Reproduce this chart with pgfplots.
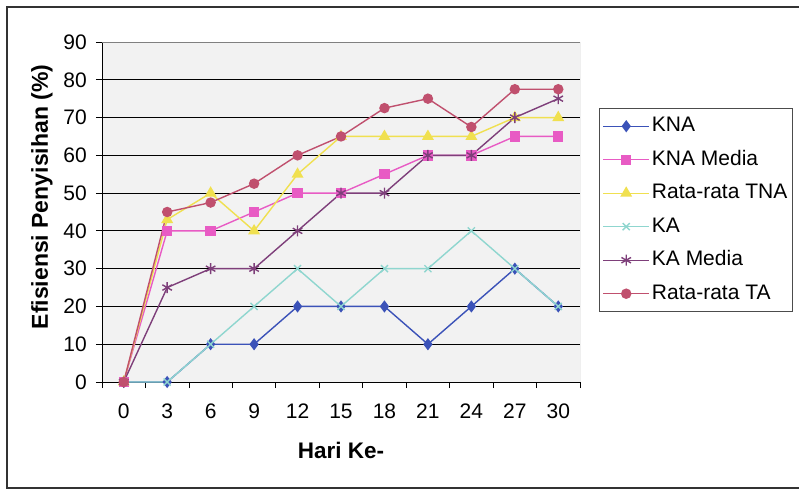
\documentclass[border=0pt]{standalone}
\usepackage{pgfplots}
\pgfplotsset{compat=1.18}
\usepackage{fontspec}
\setmainfont{Liberation Sans}
\definecolor{cKNA}{HTML}{3B52B8}
\definecolor{cKNAM}{HTML}{E85BC4}
\definecolor{cTNA}{HTML}{F0E050}
\definecolor{cKA}{HTML}{8FD6CF}
\definecolor{cKAM}{HTML}{7E3F7A}
\definecolor{cTA}{HTML}{C0506E}
\begin{document}
\fontsize{21}{25}\selectfont
\begin{tikzpicture}
\useasboundingbox (-102pt,-108pt) rectangle (697pt,382pt);
\draw[line width=1.6pt, black!80] (697pt,375pt) -- (-95pt,375pt) -- (-95pt,-106pt) -- (697pt,-106pt);
\begin{axis}[
  scale only axis,
  width=478pt, height=340pt,
  xmin=-1.5, xmax=31.5, ymin=0, ymax=90,
  axis lines*=left,
  axis line style={black, line width=0.9pt},
  axis background/.style={fill=black!5},
  xtick={0,3,...,30},
  major x tick style={draw=none},
  minor xtick={-1.5,1.5,...,31.5},
  minor x tick style={black, line width=0.8pt},
  ytick={0,10,...,90},
  tick align=outside,
  major tick length=6pt, minor tick length=6pt,
  y tick style={black, line width=0.8pt},
  extra y ticks={10,20,...,80},
  extra y tick labels={},
  extra y tick style={grid=major, major grid style={black, line width=0.9pt}, tick style={draw=none}},
  /pgf/number format/assume math mode=true,
  tick label style={font=\fontsize{21}{25}\selectfont},
  xticklabel style={yshift=-9pt},
  yticklabel style={xshift=-2pt},
  xlabel={\textbf{Hari Ke-}},
  ylabel={\textbf{Efisiensi Penyisihan (\%)}},
  xlabel style={at={(axis description cs:0.5,-0.2)}, anchor=center, font=\fontsize{22.5}{26}\selectfont},
  ylabel style={at={(axis description cs:-0.1255,0.544)}, anchor=center, font=\fontsize{23}{27}\selectfont},
  legend style={at={(axis description cs:1.04,0.805)}, anchor=north west, draw=black!70, line width=0.8pt, fill=white,
    font=\fontsize{21}{25}\selectfont, row sep=10.5pt, inner xsep=3pt, inner ysep=6pt,
    nodes={inner sep=2pt, text height=15pt, text depth=4pt}},
  legend cell align=left,
  legend image code/.code={\draw[mark repeat=2,mark phase=2] plot coordinates {(0pt,0pt) (23pt,0pt) (46pt,0pt)};},
  every axis plot/.append style={line width=1.4pt},
]
\addplot[cKNA, mark=diamond*, mark size=5pt] coordinates {(0,0)(3,0)(6,10)(9,10)(12,20)(15,20)(18,20)(21,10)(24,20)(27,30)(30,20)};
\addlegendentry{KNA}
\addplot[cKNAM, mark=square*, mark size=4.5pt] coordinates {(0,0)(3,40)(6,40)(9,45)(12,50)(15,50)(18,55)(21,60)(24,60)(27,65)(30,65)};
\addlegendentry{KNA Media}
\addplot[cTNA, mark=triangle*, mark size=5.5pt] coordinates {(0,0)(3,43)(6,50)(9,40)(12,55)(15,65)(18,65)(21,65)(24,65)(27,70)(30,70)};
\addlegendentry{Rata-rata TNA}
\addplot[cKA, mark=x, mark size=5pt, mark options={line width=1.4pt}] coordinates {(0,0)(3,0)(6,10)(9,20)(12,30)(15,20)(18,30)(21,30)(24,40)(27,30)(30,20)};
\addlegendentry{KA}
\addplot[cKAM, mark=asterisk, mark size=5.5pt, mark options={line width=1.4pt}] coordinates {(0,0)(3,25)(6,30)(9,30)(12,40)(15,50)(18,50)(21,60)(24,60)(27,70)(30,75)};
\addlegendentry{KA Media}
\addplot[cTA, mark=*, mark size=4.5pt] coordinates {(0,0)(3,45)(6,47.5)(9,52.5)(12,60)(15,65)(18,72.5)(21,75)(24,67.5)(27,77.5)(30,77.5)};
\addlegendentry{Rata-rata TA}
\draw[black!50, line width=0.9pt] (rel axis cs:0,1) -- (rel axis cs:1,1) -- (rel axis cs:1,0);
\end{axis}
\end{tikzpicture}
\end{document}
